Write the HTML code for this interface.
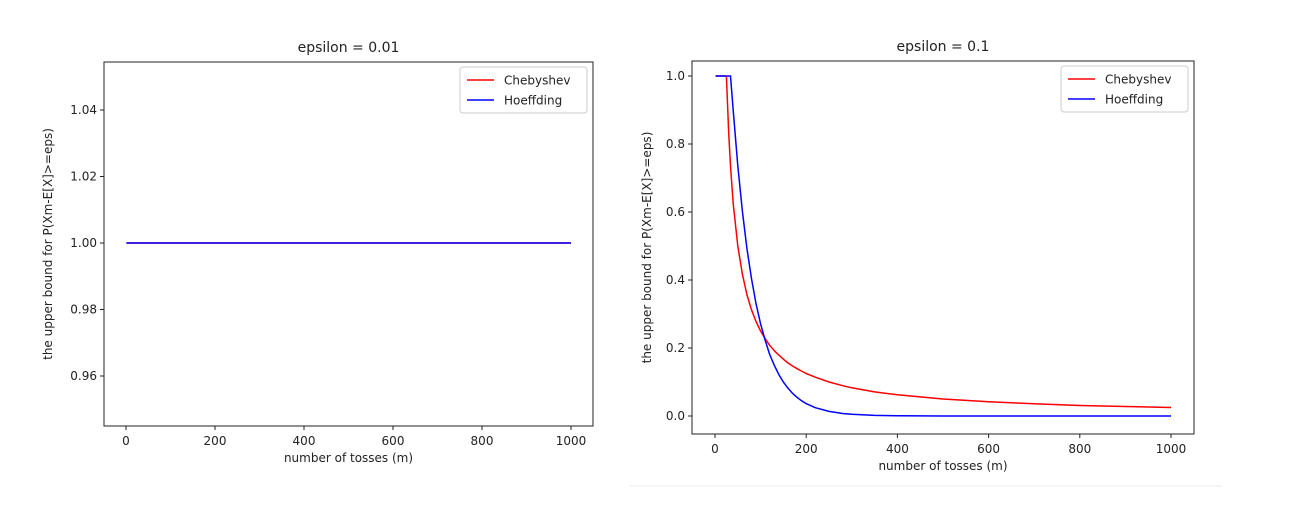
<!DOCTYPE html>
<html><head><meta charset="utf-8"><style>
body{margin:0;background:#fff;}
svg text{font-family:"DejaVu Sans","Liberation Sans",sans-serif;fill:#222;}
</style></head><body>
<svg id="fig" width="1290" height="519" xmlns="http://www.w3.org/2000/svg">
<line x1="630" y1="486" x2="1222" y2="486" stroke="#eee"/>
</svg>
<script>
const xTicks=[0,200,400,600,800,1000];
const leftYTicks=[0.96,0.98,1.00,1.02,1.04];
const leftYLabels=["0.96","0.98","1.00","1.02","1.04"];
const leftM=[1,1000];
const leftCheb=[1,1];
const leftHoeff=[1,1];
const rightYTicks=[0,0.2,0.4,0.6,0.8,1.0];
const rightYLabels=["0.0","0.2","0.4","0.6","0.8","1.0"];
const rightM=[1,10,20,25,30,34,40,50,60,70,80,90,100,110,120,130,140,150,160,170,180,190,200,220,250,280,300,350,400,500,600,700,800,900,1000];
const rightCheb=[1,1,1,1,0.833,0.735,0.625,0.5,0.417,0.357,0.3125,0.278,0.25,0.227,0.208,0.192,0.179,0.167,0.156,0.147,0.139,0.132,0.125,0.114,0.1,0.089,0.083,0.071,0.0625,0.05,0.042,0.036,0.031,0.028,0.025];
const rightHoeff=[1,1,1,1,1,1,0.899,0.736,0.602,0.493,0.404,0.331,0.271,0.222,0.181,0.149,0.122,0.0996,0.0815,0.0667,0.0546,0.0447,0.0366,0.0245,0.0135,0.0074,0.005,0.0018,0.0007,0.0001,0,0,0,0,0];

const NS="http://www.w3.org/2000/svg";
const svg=document.getElementById('fig');
function mk(tag,attrs,parent){const e=document.createElementNS(NS,tag);for(const k in attrs)e.setAttribute(k,attrs[k]);(parent||svg).appendChild(e);return e;}

function panel(p){
  const g=mk('g',{});
  
  
  const sx=v=>p.x0+(v-0)*(p.x1000-p.x0)/1000;
  const sy=v=>p.ya+(v-p.va)*(p.yb-p.ya)/(p.vb-p.va);
  const rect=mk('rect',{x:p.L,y:p.T,width:p.R-p.L,height:p.B-p.T,fill:'none',stroke:'#222','stroke-width':1},g);
  
  
  xTicks.forEach(t=>{const x=sx(t);
    mk('line',{x1:x,y1:p.B,x2:x,y2:p.B+4,stroke:'#222'},g);
    const tx=mk('text',{x:x,y:p.B+19,'text-anchor':'middle','font-size':12},g);tx.textContent=t;
    
    });
  p.yt.forEach((t,i)=>{const y=sy(t);
    mk('line',{x1:p.L-4,y1:y,x2:p.L,y2:y,stroke:'#222'},g);
    const tx=mk('text',{x:p.L-7,y:y+4,'text-anchor':'end','font-size':12},g);tx.textContent=p.yl[i];
    
    });
  const xt=mk('text',{x:(p.L+p.R)/2,y:p.B+36,'text-anchor':'middle','font-size':12},g);xt.textContent='number of tosses (m)';
  
  
  const cy=(p.T+p.B)/2;
  const yt=mk('text',{x:p.yTitleX,y:cy,'text-anchor':'middle','font-size':12,transform:`rotate(-90 ${p.yTitleX} ${cy})`},g);yt.textContent='the upper bound for P(Xm-E[X]>=eps)';
  
  
  const tt=mk('text',{x:(p.L+p.R)/2,y:p.T-10,'text-anchor':'middle','font-size':14},g);tt.textContent=p.title;
  
  
  [[p.cheb,'#ff0000','chebyshev-line'],[p.hoeff,'#0000ff','hoeffding-line']].forEach(([vals,c,n])=>{
    const pts=p.m.map((m,i)=>sx(m).toFixed(1)+','+sy(vals[i]).toFixed(1)).join(' ');
    const pl=mk('polyline',{points:pts,fill:'none',stroke:c,'stroke-width':1.5,'stroke-linejoin':'round'},g);
    
    });
  const lg=mk('g',{},g);
  
  
  const lx=p.R-133, ly=p.T+5;
  mk('rect',{x:lx,y:ly,width:127,height:46,rx:3,fill:'#fff',stroke:'#ccc'},lg);
  [['Chebyshev','#ff0000'],['Hoeffding','#0000ff']].forEach(([t,c],i)=>{
    const y=ly+13+i*20;
    mk('line',{x1:lx+7,y1:y,x2:lx+34,y2:y,stroke:c,'stroke-width':1.5},lg);
    const tx=mk('text',{x:lx+44,y:y+4.5,'font-size':12},lg);tx.textContent=t;
    
    });
}
panel({name:'chart-epsilon-0.01',L:104,R:593,T:62,B:426,x0:126,x1000:571,ya:243,va:1.0,yb:376,vb:0.96,yt:leftYTicks,yl:leftYLabels,title:'epsilon = 0.01',m:leftM,cheb:leftCheb,hoeff:leftHoeff,yTitleX:52});
panel({name:'chart-epsilon-0.1',L:692,R:1194,T:61,B:434,x0:715,x1000:1171,ya:416,va:0,yb:76,vb:1.0,yt:rightYTicks,yl:rightYLabels,title:'epsilon = 0.1',m:rightM,cheb:rightCheb,hoeff:rightHoeff,yTitleX:651});
</script>
</body></html>
